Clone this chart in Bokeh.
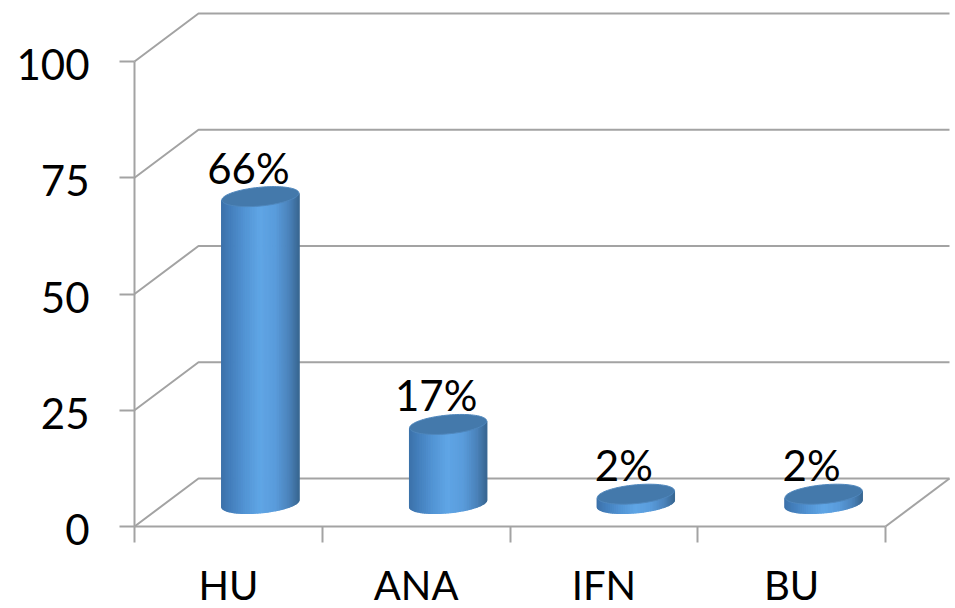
import numpy as np
from bokeh.embed import file_html
from bokeh.resources import INLINE
from bokeh.plotting import figure
from bokeh.models import FixedTicker, Range1d
from bokeh.core.properties import value

# chart data
categories = ["HU", "ANA", "IFN", "BU"]
percentages = [66, 17, 2, 2]
y_ticks = [0, 25, 50, 75, 100]

# pixel geometry of the pseudo-3D box
WIDTH, HEIGHT = 955, 608
LEFT, RIGHT_FRONT = 134, 885
BOTTOM, TOP_100 = 526, 61
UX = (RIGHT_FRONT - LEFT) / len(categories)   # pixels per category
UY = (BOTTOM - TOP_100) / 100                 # pixels per percentage point
DEPTH_X, DEPTH_Y = 64 / UX, 48 / UY
GRID = "#a3a3a3"
FONT = "Lato"
AXIS_FONT_SIZE = "40px"
LABEL_FONT_SIZE = "42px"

# the frame fills the canvas; the axes sit at the data origin inside it
p = figure(
    width=WIDTH, height=HEIGHT, output_backend="svg", toolbar_location=None,
    x_range=Range1d(-LEFT / UX, (WIDTH - LEFT) / UX),
    y_range=Range1d(-(HEIGHT - BOTTOM) / UY, BOTTOM / UY),
    min_border=0,
    background_fill_color="white", border_fill_color="white",
    outline_line_color=None,
)
p.grid.visible = False

# value axis: its labels are drawn as text below, sitting a little under the ticks
ya = p.yaxis[0]
ya.fixed_location = 0
ya.bounds = (0, 100)
ya.ticker = FixedTicker(ticks=y_ticks)
ya.major_label_overrides = {v: "" for v in y_ticks}
ya.axis_line_color = GRID
ya.axis_line_width = 2
ya.major_tick_line_color = GRID
ya.major_tick_line_width = 2
ya.major_tick_in = 0
ya.major_tick_out = 15
ya.minor_tick_line_color = None

# category axis: labels centred between the minor ticks
n = len(categories)
xa = p.xaxis[0]
xa.fixed_location = 0
xa.bounds = (0, n)
xa.ticker = FixedTicker(ticks=[i + 0.5 for i in range(n)], minor_ticks=list(range(n + 1)))
xa.major_label_overrides = {i + 0.5: c for i, c in enumerate(categories)}
xa.axis_line_color = GRID
xa.axis_line_width = 2
xa.major_tick_line_color = None
xa.major_tick_in = 0
xa.major_tick_out = 0
xa.minor_tick_line_color = GRID
xa.minor_tick_line_width = 2
xa.minor_tick_in = 0
xa.minor_tick_out = 16
xa.major_label_standoff = 18
xa.major_label_text_font = FONT
xa.major_label_text_font_size = AXIS_FONT_SIZE
xa.major_label_text_color = "black"

# side wall and back wall gridlines
for v in y_ticks:
    p.line([0, DEPTH_X, n + DEPTH_X], [v, v + DEPTH_Y, v + DEPTH_Y],
           line_color=GRID, line_width=2)
# right edge of the floor
p.line([n, n + DEPTH_X], [0, DEPTH_Y], line_color=GRID, line_width=2)

# cylinder footprint, in pixels
HALF_W, ELL_H = 36.2, 10.0
ELL_DX = 13.3
CX_SHIFT, CY_SHIFT = 32, 23
R = np.hypot(HALF_W, ELL_DX)
T_RIGHT = np.arctan2(ELL_DX, HALF_W)


def shade(u):
    """Body colour across the cylinder, u running from 0 (left) to 1 (right)."""
    stops = [0.0, 0.12, 0.3, 0.5, 0.7, 0.88, 1.0]
    reds = [0x3d, 0x44, 0x52, 0x60, 0x5a, 0x4b, 0x3a]
    greens = [0x72, 0x7f, 0x94, 0xa6, 0x9c, 0x83, 0x69]
    blues = [0xaa, 0xbc, 0xd4, 0xe6, 0xdc, 0xbb, 0x94]
    return "#%02x%02x%02x" % (
        int(np.interp(u, stops, reds)),
        int(np.interp(u, stops, greens)),
        int(np.interp(u, stops, blues)),
    )


STRIPS = 48
ts = np.linspace(T_RIGHT + np.pi, T_RIGHT + 2 * np.pi, STRIPS + 1)
ex = HALF_W * np.cos(ts) + ELL_DX * np.sin(ts)
ey = ELL_H * np.sin(ts)
full_t = np.linspace(0, 2 * np.pi, 90)
cap_x = HALF_W * np.cos(full_t) + ELL_DX * np.sin(full_t)
cap_y = ELL_H * np.sin(full_t)

for i, pct in enumerate(percentages):
    cx = i + 0.5 + CX_SHIFT / UX
    cy = CY_SHIFT / UY
    xs, ys, cols = [], [], []
    for k in range(STRIPS):
        xs.append(list(cx + np.array([ex[k], ex[k + 1], ex[k + 1], ex[k]]) / UX))
        ys.append([cy + ey[k] / UY, cy + ey[k + 1] / UY,
                   cy + pct + ey[k + 1] / UY, cy + pct + ey[k] / UY])
        cols.append(shade((0.5 * (ex[k] + ex[k + 1]) + R) / (2 * R)))
    p.patches(xs, ys, fill_color=cols, line_color=cols, line_width=1.2)
    p.patch(cx + cap_x / UX, cy + pct + cap_y / UY,
            fill_color="#4479ab", line_color="#4f87bd", line_width=1)

# value labels above the cylinders
label_x = [i + 0.5 + CX_SHIFT / UX for i in range(n)]
label_y = [CY_SHIFT / UY + v for v in percentages]
p.text(label_x, label_y, text=[f"{v}%" for v in percentages],
       x_offset=-12, y_offset=-29,
       text_align="center", text_baseline="alphabetic",
       text_font=value(FONT), text_font_size=LABEL_FONT_SIZE, text_color="black")

# tick labels of the value axis
p.text([0] * len(y_ticks), y_ticks, text=[str(v) for v in y_ticks],
       x_offset=-45, y_offset=3,
       text_align="right", text_baseline="alphabetic",
       text_font=value(FONT), text_font_size=LABEL_FONT_SIZE, text_color="black")

open("out.html", "w").write(file_html(p, INLINE))
